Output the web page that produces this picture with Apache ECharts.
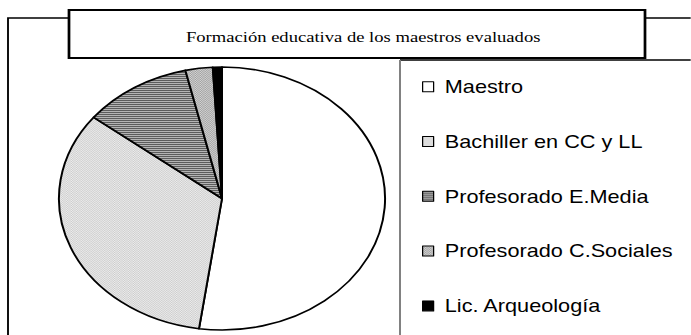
<!DOCTYPE html>
<html>
<head>
<meta charset="utf-8">
<script src="https://cdn.jsdelivr.net/npm/echarts@6/dist/echarts.min.js"></script>
<style>
html,body{margin:0;padding:0;background:#fff;overflow:hidden;width:691px;height:335px;}
#chart{position:absolute;left:0;top:0;width:557.26px;height:335px;transform:scaleX(1.24);transform-origin:0 0;}
</style>
</head>
<body>
<div id="chart"></div>
<script>
// ---- data ----
const titleText = 'Formación educativa de los maestros evaluados';
const categories = ['Maestro', 'Bachiller en CC y LL', 'Profesorado E.Media', 'Profesorado C.Sociales', 'Lic. Arqueología'];
const values = [58, 37, 12, 3, 1];

// ---- patterns ----
function makePattern(w, h, draw) {
  const c = document.createElement('canvas');
  c.width = w; c.height = h;
  const ctx = c.getContext('2d');
  draw(ctx);
  return { image: c, imageWidth: w, imageHeight: h, repeat: 'repeat' };
}
const patLight = makePattern(2, 2, ctx => {
  ctx.fillStyle = '#ececec'; ctx.fillRect(0, 0, 2, 2);
  ctx.fillStyle = '#cdcdcd'; ctx.fillRect(0, 0, 1, 1); ctx.fillRect(1, 1, 1, 1);
});
const patStripe = makePattern(2, 2, ctx => {
  ctx.fillStyle = '#b4b4b4'; ctx.fillRect(0, 0, 2, 2);
  ctx.fillStyle = '#5c5c5c'; ctx.fillRect(0, 0, 2, 1);
});
const patMed = makePattern(2, 2, ctx => {
  ctx.fillStyle = '#d4d4d4'; ctx.fillRect(0, 0, 2, 2);
  ctx.fillStyle = '#a0a0a0'; ctx.fillRect(0, 0, 1, 1); ctx.fillRect(1, 1, 1, 1);
});
const fills = ['#ffffff', patLight, patStripe, patMed, '#000000'];

const S = 1.24; // horizontal stretch of the picture
const X = v => v / S;

const chart = echarts.init(document.getElementById('chart'), null, { renderer: 'svg' });
chart.setOption({
  animation: false,
  backgroundColor: '#fff',
  title: {
    text: titleText,
    left: X(357), top: 25, textAlign: 'center',
    textStyle: { fontFamily: 'Liberation Serif', fontWeight: 'normal', fontSize: 15, color: '#000' }
  },
  legend: {
    orient: 'vertical',
    left: X(422), top: 76.7,
    padding: 0,
    itemWidth: X(11), itemHeight: 10,
    itemGap: 34.8,
    icon: 'rect',
    selectedMode: false,
    itemStyle: { borderColor: '#000', borderWidth: 1 },
    textStyle: { fontFamily: 'Liberation Sans', fontSize: 17.5, color: '#000', lineHeight: 20, padding: [0, 0, 0, 4] },
    data: categories
  },
  graphic: [
    { type: 'polyline', z: 1, shape: { points: [[X(8), 340], [X(8), 18], [X(69), 18]] }, style: { stroke: '#000', lineWidth: 1.5, fill: null } },
    { type: 'line', z: 1, shape: { x1: X(645), y1: 18, x2: X(700), y2: 18 }, style: { stroke: '#000', lineWidth: 1.5 } },
    { type: 'line', z: 1, shape: { x1: X(400), y1: 60, x2: X(700), y2: 60 }, style: { stroke: '#000', lineWidth: 1.3 } },
    { type: 'line', z: 1, shape: { x1: X(400), y1: 60, x2: X(400), y2: 340 }, style: { stroke: '#808080', lineWidth: 1.6 } },
    { type: 'rect', z: 2, shape: { x: X(69), y: 10, width: X(645) - X(69), height: 48 }, style: { fill: '#fff', stroke: '#000', lineWidth: 2.2 } }
  ],
  series: [{
    type: 'pie',
    center: [X(222), 198.5],
    radius: 131.5,
    startAngle: 90,
    clockwise: true,
    label: { show: false },
    labelLine: { show: false },
    emphasis: { disabled: true },
    itemStyle: { borderColor: '#000', borderWidth: 1.6 },
    data: categories.map((c, i) => ({ name: c, value: values[i], itemStyle: { color: fills[i] } }))
  }]
});
</script>
</body>
</html>
